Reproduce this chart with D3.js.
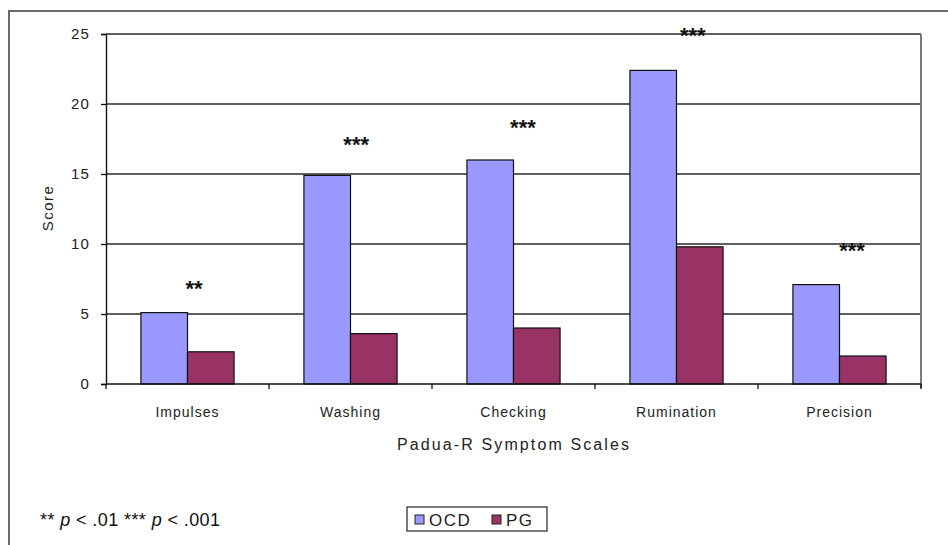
<!DOCTYPE html>
<html>
<head>
<meta charset="utf-8">
<script src="https://cdn.jsdelivr.net/npm/d3@7/dist/d3.min.js"></script>
<style>
  html, body { margin: 0; padding: 0; background: #fff; }
  svg { display: block; font-family: Arial, "Liberation Sans", sans-serif; }
</style>
</head>
<body>
<svg id="chart" width="948" height="545"></svg>
<script>
// ---- data ----
const categories = ["Impulses", "Washing", "Checking", "Rumination", "Precision"];
const seriesNames = ["OCD", "PG"];
const ocdValues = [5.1, 14.9, 16.0, 22.4, 7.1];
const pgValues = [2.3, 3.6, 4.0, 9.8, 2.0];
const yTicks = [0, 5, 10, 15, 20, 25];
const sigLabels = ["**", "***", "***", "***", "***"];
const sigLevel = [7.0, 17.3, 18.5, 25.1, 9.7];      // annotation height in score units
const sigAnchor = [0.54, 0.535, 0.558, 0.60, 0.577]; // position within category band
const yTitle = "Score";
const xTitle = "Padua-R Symptom Scales";

const colors = { OCD: "#9999FF", PG: "#993366" };

const svg = d3.select("#chart");

// outer chart border
svg.append("rect").attr("x", 9).attr("y", 11).attr("width", 1000).attr("height", 600)
  .attr("fill", "none").attr("stroke", "#6a6a6a").attr("stroke-width", 2);

const plot = { left: 106, right: 921, top: 34, bottom: 384 };

const x = d3.scaleBand().domain(categories).range([plot.left, plot.right]).paddingInner(0).paddingOuter(0);
const y = d3.scaleLinear().domain([0, 25]).range([plot.bottom, plot.top]);
const barW = x.bandwidth() / 3.5;
const xs = d3.scaleBand().domain(seriesNames).range([0, 2 * barW]);

// gridlines
svg.append("g").selectAll("line").data(yTicks.filter(d => d > 0)).join("line")
  .attr("x1", plot.left).attr("x2", plot.right)
  .attr("y1", d => y(d)).attr("y2", d => y(d))
  .attr("stroke", "#2a2a2a").attr("stroke-width", 1.3);

// right plot border
svg.append("line").attr("x1", plot.right).attr("x2", plot.right)
  .attr("y1", plot.top).attr("y2", plot.bottom + 4)
  .attr("stroke", "#7a7a7a").attr("stroke-width", 2);

// bars
const rows = categories.map((c, i) => ({ cat: c, OCD: ocdValues[i], PG: pgValues[i] }));
const groups = svg.append("g").selectAll("g").data(rows).join("g")
  .attr("transform", d => `translate(${x(d.cat) + x.bandwidth() / 2 - barW},0)`);
groups.selectAll("rect").data(d => seriesNames.map(s => ({ s, v: d[s] }))).join("rect")
  .attr("x", d => xs(d.s)).attr("width", xs.bandwidth())
  .attr("y", d => y(d.v)).attr("height", d => y(0) - y(d.v))
  .attr("fill", d => colors[d.s]).attr("stroke", "#111").attr("stroke-width", 1.2);

// y axis
const yAxis = d3.axisLeft(y).tickValues(yTicks).tickSize(5).tickPadding(11);
const ya = svg.append("g").attr("transform", `translate(${plot.left},0)`).call(yAxis);
ya.select(".domain").attr("stroke", "#111").attr("stroke-width", 1.4);
ya.selectAll(".tick line").attr("stroke", "#111").attr("stroke-width", 1.3);
ya.selectAll(".tick text").attr("font-size", 15).attr("letter-spacing", "1.2px")
  .attr("fill", "#222").attr("font-family", "Arial, 'Liberation Sans', sans-serif");

// x axis
const boundaries = categories.map(c => x(c)).concat([plot.right]);
svg.append("line").attr("x1", plot.left).attr("x2", plot.right)
  .attr("y1", plot.bottom).attr("y2", plot.bottom).attr("stroke", "#111").attr("stroke-width", 1.4);
svg.append("g").selectAll("line").data(boundaries).join("line")
  .attr("x1", d => d).attr("x2", d => d).attr("y1", plot.bottom).attr("y2", plot.bottom + 5)
  .attr("stroke", "#111").attr("stroke-width", 1.3);
svg.append("g").selectAll("text").data(categories).join("text")
  .attr("x", d => x(d) + x.bandwidth() / 2).attr("y", 417)
  .attr("text-anchor", "middle").attr("font-size", 14).attr("letter-spacing", "1px")
  .attr("fill", "#222").text(d => d);

// axis titles
svg.append("text").attr("x", 513).attr("y", 450).attr("text-anchor", "middle")
  .attr("font-size", 16).attr("textLength", 232).attr("lengthAdjust", "spacing")
  .attr("fill", "#222").text(xTitle);
svg.append("text").attr("transform", "translate(53,208) rotate(-90)").attr("text-anchor", "middle")
  .attr("font-size", 15).attr("letter-spacing", "1.5px").attr("fill", "#222").text(yTitle);

// significance stars
svg.append("g").selectAll("text").data(categories).join("text")
  .attr("x", (d, i) => x(d) + x.bandwidth() * sigAnchor[i])
  .attr("y", (d, i) => y(sigLevel[i]) + 10)
  .attr("text-anchor", "middle").attr("font-size", 22).attr("font-weight", "bold")
  .attr("letter-spacing", "0px").attr("fill", "#111")
  .text((d, i) => sigLabels[i]);

// footnote
const fn = svg.append("text").attr("x", 40).attr("y", 526).attr("font-size", 18)
  .attr("textLength", 180).attr("lengthAdjust", "spacing").attr("fill", "#111");
fn.append("tspan").text("** ");
fn.append("tspan").attr("font-style", "italic").text("p");
fn.append("tspan").text(" < .01 *** ");
fn.append("tspan").attr("font-style", "italic").text("p");
fn.append("tspan").text(" < .001");

// legend
const lg = svg.append("g");
lg.append("rect").attr("x", 407).attr("y", 507).attr("width", 140).attr("height", 24)
  .attr("fill", "#fff").attr("stroke", "#333").attr("stroke-width", 1.3);
const legX = [415, 492];
seriesNames.forEach((s, i) => {
  lg.append("rect").attr("x", legX[i]).attr("y", 515).attr("width", 9).attr("height", 9)
    .attr("fill", colors[s]).attr("stroke", "#222").attr("stroke-width", 1);
  lg.append("text").attr("x", legX[i] + 14).attr("y", 526).attr("font-size", 17)
    .attr("letter-spacing", "1.5px").attr("fill", "#222").text(s);
});
</script>
</body>
</html>
